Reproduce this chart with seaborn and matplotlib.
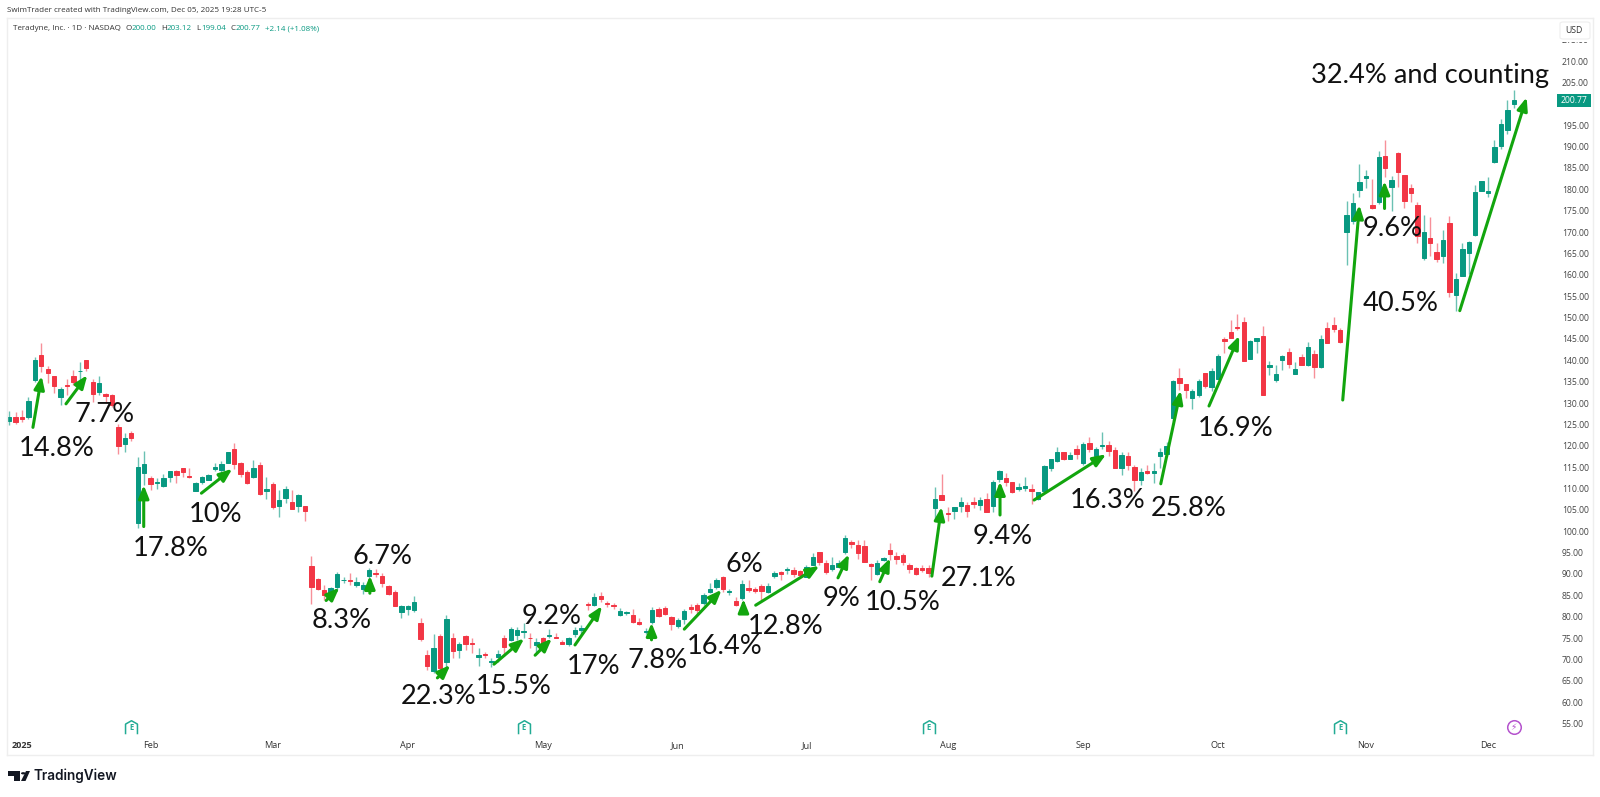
import numpy as np
import pandas as pd
import matplotlib
matplotlib.use("Agg")
import matplotlib.pyplot as plt
from matplotlib.patches import Polygon, Circle, FancyBboxPatch, Rectangle
import seaborn as sns

# Daily bars, Dec 30 2024 to Dec 5 2025
opens = [
    125.9, 126.7, 126.8, 126.8, 135.4, 141.2, 138.0, 136.3, 131.3, 134.2,
    136.2, 137.4, 140.0, 135.0, 132.5, 132.0, 131.9, 124.5, 120.4, 122.9,
    101.9, 113.6, 112.5, 111.3, 110.7, 112.8, 114.0, 114.7, 113.0, 109.5,
    111.6, 112.1, 114.6, 114.3, 116.0, 119.2, 116.0, 113.9, 112.8, 115.5,
    109.3, 111.0, 106.0, 107.7, 106.8, 106.0, 105.9, 91.9, 88.8, 86.2,
    85.5, 87.0, 88.6, 88.6, 87.4, 86.4, 89.6, 90.2, 89.6, 87.1,
    85.7, 81.2, 81.7, 81.5, 78.6, 71.0, 67.3, 75.5, 69.3, 75.1,
    72.2, 75.5, 73.9, 70.7, 71.2, 69.3, 70.5, 75.0, 74.6, 75.7,
    76.4, 75.1, 73.4, 75.0, 75.4, 75.3, 74.2, 73.7, 75.9, 76.9,
    83.0, 82.8, 84.9, 83.2, 82.8, 80.4, 80.8, 80.3, 78.7, 76.4,
    78.8, 81.7, 82.0, 79.9, 77.8, 79.4, 82.2, 82.7, 83.1, 85.9,
    87.0, 89.2, 85.8, 83.8, 84.3, 86.7, 86.4, 87.3, 85.9, 89.5,
    90.5, 90.9, 90.9, 90.6, 89.4, 92.2, 95.1, 92.5, 91.1, 91.7,
    95.1, 97.6, 96.9, 96.5, 92.3, 90.1, 93.3, 95.7, 94.2, 94.5,
    92.2, 91.3, 91.5, 91.5, 105.5, 108.5, 104.3, 104.8, 106.0, 106.1,
    106.8, 106.1, 107.5, 105.9, 112.3, 112.4, 111.5, 109.9, 110.1, 110.0,
    107.5, 109.5, 114.8, 116.5, 118.6, 117.0, 119.3, 116.0, 120.6, 117.6,
    120.0, 120.2, 119.0, 114.7, 117.7, 115.0, 112.1, 114.1, 113.6, 117.6,
    118.0, 126.4, 135.9, 134.5, 131.2, 131.8, 137.0, 133.8, 135.7, 144.9,
    146.5, 147.8, 149.0, 140.4, 144.4, 145.6, 138.4, 135.3, 140.0, 141.9,
    136.8, 140.8, 138.8, 141.4, 138.5, 147.5, 148.2, 147.0, 169.9, 172.6,
    179.9, 182.7, 176.3, 177.0, 187.7, 180.5, 188.4, 183.4, 180.2, 176.3,
    164.0, 168.5, 165.4, 164.5, 172.2, 155.2, 159.8, 165.2, 169.3, 179.6,
    179.1, 186.3, 190.2, 193.8, 200.0,
]
highs = [
    128.2, 128.0, 128.4, 131.3, 140.7, 144.1, 138.7, 136.3, 133.8, 135.6,
    137.7, 139.7, 140.0, 135.5, 136.2, 132.4, 132.1, 125.2, 122.9, 123.5,
    117.3, 118.8, 113.0, 112.5, 113.3, 114.1, 114.3, 114.9, 114.7, 111.6,
    112.9, 113.3, 115.9, 116.5, 118.6, 120.6, 116.3, 114.3, 116.7, 116.3,
    112.8, 111.5, 109.7, 110.6, 109.7, 108.7, 105.9, 94.2, 89.0, 87.4,
    86.9, 90.5, 89.4, 90.3, 89.2, 88.2, 91.3, 91.1, 90.2, 87.4,
    86.3, 82.8, 82.8, 84.9, 79.6, 72.2, 76.0, 76.0, 80.4, 76.1,
    74.2, 75.7, 75.0, 72.6, 71.7, 70.3, 72.2, 75.7, 77.5, 77.7,
    78.5, 76.3, 75.0, 75.3, 77.1, 76.3, 74.6, 75.3, 77.7, 78.1,
    83.5, 85.5, 85.7, 83.8, 83.1, 82.0, 81.3, 81.7, 79.6, 77.3,
    82.2, 82.2, 82.4, 80.2, 79.6, 81.7, 83.0, 83.3, 85.5, 87.8,
    89.0, 89.5, 86.6, 84.7, 88.6, 88.6, 86.9, 87.7, 87.8, 90.8,
    90.8, 91.7, 91.7, 90.9, 92.1, 94.8, 95.2, 93.3, 93.9, 93.3,
    99.1, 98.0, 97.9, 97.9, 92.6, 93.3, 93.9, 97.2, 95.2, 95.0,
    92.6, 91.7, 92.1, 92.1, 110.4, 113.4, 105.7, 105.6, 107.9, 106.9,
    107.9, 108.1, 108.9, 112.0, 114.3, 113.7, 111.6, 111.2, 112.6, 111.0,
    109.2, 115.4, 117.0, 119.8, 118.6, 118.6, 120.2, 120.9, 122.1, 119.8,
    123.3, 121.2, 119.8, 118.6, 118.6, 115.5, 114.7, 115.5, 115.9, 119.5,
    120.8, 135.4, 138.2, 134.5, 133.2, 135.7, 137.1, 138.1, 141.4, 145.5,
    149.4, 150.8, 150.2, 144.7, 145.3, 148.0, 139.9, 138.9, 141.2, 142.9,
    139.6, 141.4, 144.2, 142.4, 145.9, 149.0, 150.1, 147.6, 177.3, 179.1,
    185.9, 184.5, 182.4, 189.0, 191.6, 183.0, 188.8, 183.4, 181.3, 177.1,
    173.9, 173.4, 167.4, 170.5, 173.8, 160.5, 167.5, 167.9, 181.0, 182.0,
    182.8, 191.6, 196.5, 200.9, 203.12,
]
lows = [
    124.8, 125.2, 125.6, 126.2, 135.0, 137.3, 134.6, 132.3, 129.6, 131.9,
    134.2, 135.4, 137.6, 130.3, 131.9, 129.9, 129.1, 118.1, 118.5, 121.0,
    100.8, 110.8, 109.7, 110.0, 110.4, 111.6, 111.4, 112.8, 112.4, 109.3,
    111.1, 112.0, 114.0, 113.8, 115.9, 114.6, 112.8, 111.0, 112.4, 108.5,
    107.5, 105.1, 103.3, 106.7, 105.1, 104.4, 102.4, 83.0, 86.3, 83.9,
    85.0, 86.3, 87.8, 87.4, 87.0, 85.3, 89.0, 89.4, 87.0, 85.1,
    82.4, 79.6, 80.4, 81.2, 74.4, 67.5, 66.9, 65.6, 68.3, 70.3,
    70.3, 72.2, 71.6, 68.5, 70.3, 68.3, 69.5, 70.8, 74.3, 74.6,
    75.0, 72.6, 71.8, 73.4, 75.0, 75.0, 73.6, 73.2, 75.2, 75.7,
    81.6, 82.5, 83.5, 82.2, 81.7, 80.2, 80.4, 78.6, 78.1, 75.9,
    78.4, 79.9, 80.4, 77.0, 77.4, 78.3, 80.8, 80.4, 82.7, 85.6,
    86.6, 85.9, 85.2, 82.5, 83.9, 85.9, 85.5, 83.9, 85.5, 89.0,
    88.6, 90.0, 89.2, 89.5, 89.2, 92.0, 92.1, 90.1, 90.8, 91.3,
    94.6, 96.0, 93.4, 92.9, 88.6, 89.8, 93.1, 93.3, 92.3, 92.1,
    90.3, 89.8, 90.5, 89.2, 102.5, 107.2, 102.5, 102.8, 104.6, 103.4,
    105.4, 105.0, 104.5, 104.6, 111.6, 110.6, 109.0, 109.5, 109.5, 106.4,
    107.3, 109.2, 114.2, 116.3, 116.7, 116.8, 117.0, 115.6, 118.5, 117.4,
    119.2, 117.6, 114.8, 113.2, 114.3, 109.5, 110.8, 113.5, 111.2, 114.8,
    117.5, 125.8, 133.0, 131.1, 128.6, 131.4, 133.6, 132.9, 135.5, 141.6,
    145.1, 147.0, 139.9, 140.2, 141.8, 131.8, 136.5, 135.0, 137.7, 138.1,
    136.8, 138.8, 138.6, 135.9, 138.1, 144.1, 146.7, 144.1, 162.3, 171.9,
    178.1, 180.3, 175.3, 176.6, 182.8, 174.8, 180.6, 175.7, 177.1, 167.5,
    163.5, 164.5, 163.1, 162.7, 154.9, 151.6, 159.7, 160.1, 169.0, 179.5,
    178.3, 186.1, 189.5, 193.0, 199.04,
]
closes = [
    126.7, 125.6, 126.3, 130.5, 140.1, 138.7, 137.0, 134.0, 133.2, 134.0,
    134.8, 137.5, 138.2, 132.1, 134.6, 131.7, 129.5, 120.0, 121.9, 121.8,
    115.0, 115.7, 111.0, 111.6, 112.5, 114.0, 113.1, 113.9, 112.6, 111.3,
    112.7, 113.2, 115.0, 115.7, 118.5, 115.7, 113.5, 111.2, 114.8, 108.6,
    109.8, 105.6, 107.2, 110.0, 105.2, 108.5, 104.8, 86.9, 86.5, 85.1,
    86.7, 90.0, 88.7, 88.3, 88.1, 87.4, 90.9, 89.9, 87.8, 85.4,
    82.4, 82.4, 82.4, 83.5, 74.9, 68.5, 72.8, 67.9, 79.4, 72.1,
    73.6, 73.6, 73.6, 71.0, 71.0, 69.7, 71.2, 73.0, 77.1, 76.9,
    76.7, 75.0, 74.1, 73.6, 75.8, 75.1, 73.7, 75.0, 76.8, 77.3,
    82.8, 84.7, 84.2, 82.9, 82.6, 81.3, 81.2, 78.8, 78.3, 76.7,
    81.6, 80.2, 80.6, 78.3, 79.3, 81.3, 81.8, 81.6, 85.0, 86.6,
    88.6, 86.4, 86.0, 82.8, 87.6, 86.2, 86.0, 86.1, 87.3, 90.2,
    90.0, 91.1, 90.1, 89.7, 91.7, 94.0, 92.8, 90.4, 92.2, 92.5,
    98.5, 97.0, 95.0, 92.9, 91.9, 92.6, 93.7, 94.6, 93.4, 92.8,
    91.1, 90.0, 91.0, 90.2, 107.5, 107.2, 104.0, 105.6, 106.8, 104.7,
    106.3, 107.3, 104.5, 111.6, 114.0, 111.6, 109.2, 110.3, 110.6, 109.4,
    109.1, 115.3, 117.0, 118.5, 116.8, 117.8, 118.1, 120.4, 119.3, 119.2,
    120.2, 118.8, 114.9, 117.8, 115.4, 112.1, 113.9, 113.7, 114.2, 118.6,
    120.0, 135.2, 134.6, 133.0, 132.7, 135.1, 134.0, 137.5, 141.0, 144.5,
    145.3, 147.5, 139.9, 144.5, 145.2, 131.8, 139.0, 136.9, 141.0, 139.1,
    138.0, 138.8, 143.1, 138.5, 144.9, 144.1, 147.3, 144.3, 174.0, 176.9,
    181.7, 183.1, 175.5, 187.5, 184.9, 182.2, 184.0, 177.2, 179.2, 169.0,
    169.9, 167.4, 163.6, 168.2, 155.9, 159.0, 166.0, 167.7, 179.3, 181.9,
    179.6, 190.0, 195.2, 198.5, 200.77,
]

# Axis ticks: bar number of the first session of each month
month_bars = [0, 20, 39, 60, 81, 102, 122, 144, 165, 186, 209, 228]
month_labels = ["2025", "Feb", "Mar", "Apr", "May", "Jun", "Jul", "Aug", "Sep", "Oct", "Nov", "Dec"]
# 200.00 sits behind the last price tag, so it gets no label
price_ticks = [p for p in range(55, 220, 5) if p != 200]

# Hand drawn arrows as (bar, price) start and tip
arrow_x0 = [1.7, 6.84, 18.93, 27.9, 47.3, 54.1, 64.6, 73.4, 79.8, 86.0, 97.9, 103.0,
            112.2, 114.1, 126.9, 133.4, 141.5, 152.1, 157.4, 177.1, 184.6, 205.4, 211.9, 223.6]
arrow_y0 = [124.3, 129.8, 101.1, 108.9, 83.8, 85.5, 65.7, 68.9, 71.0, 73.4, 74.6, 77.1,
            82.3, 82.7, 89.1, 88.2, 89.5, 103.8, 107.3, 111.1, 129.3, 130.7, 175.5, 151.6]
arrow_x1 = [3.06, 10.16, 18.93, 32.7, 49.35, 54.1, 66.6, 78.1, 82.4, 90.2, 97.9, 108.8,
            112.2, 124.0, 128.6, 135.0, 143.0, 152.1, 168.6, 180.2, 189.3, 208.0, 211.9, 234.0]
arrow_y1 = [136.3, 136.5, 110.8, 114.6, 86.8, 89.6, 68.7, 74.9, 74.9, 82.5, 78.6, 86.3,
            84.1, 91.9, 94.6, 93.7, 105.7, 111.6, 118.0, 132.9, 145.7, 176.3, 181.9, 201.5]

# Percentage notes, in picture pixels
note_text = ["14.8%", "7.7%", "17.8%", "10%", "8.3%", "6.7%", "22.3%", "15.5%", "9.2%", "17%",
             "7.8%", "16.4%", "6%", "12.8%", "9%", "10.5%", "27.1%", "9.4%", "16.3%", "25.8%",
             "16.9%", "40.5%", "9.6%", "32.4% and counting"]
note_x = [57, 105, 171, 216, 342, 382, 439, 514, 552, 594, 658, 725,
          744, 786, 842, 903, 979, 1003, 1108, 1189, 1236, 1401, 1393, 1430]
note_y = [448, 415, 548, 515, 621, 557, 697, 687, 617, 666, 660, 647,
          565, 626, 599, 603, 579, 536, 500, 508, 428, 304, 229, 75]

earnings_bars = [17, 78, 141, 205]
dividend_bar = [232]

GREEN = "#089981"
RED = "#F23645"
ARROW = "#12A50E"
W, H = 1600, 797


def fx(x):
    return x / W


def fy(y):
    return 1 - y / H


sns.set_theme(style="white")
plt.rcParams["font.family"] = ["Open Sans", "DejaVu Sans"]

df = pd.DataFrame({"open": opens, "high": highs, "low": lows, "close": closes})
df["bar"] = np.arange(len(df)) - 2
df["base"] = df[["open", "close"]].min(axis=1)
df["body"] = (df["close"] - df["open"]).abs()
df["up"] = df["close"] >= df["open"]

fig = plt.figure(figsize=(16, 7.97), dpi=100, facecolor="white")
ax = fig.add_axes([fx(7), fy(755), (1593 - 7) / W, (755 - 18) / H])

# Wicks first, bodies on top
ax.vlines(df["bar"][df["up"]], df["low"][df["up"]], df["high"][df["up"]], color=GREEN, lw=1.0, alpha=0.6)
ax.vlines(df["bar"][~df["up"]], df["low"][~df["up"]], df["high"][~df["up"]], color=RED, lw=1.0, alpha=0.55)
for flag, colour in [(True, GREEN), (False, RED)]:
    part = df[df["up"] == flag]
    sns.barplot(data=part, x="bar", y="body", bottom=part["base"].values, native_scale=True,
                color=colour, saturation=1, width=0.68, errorbar=None, edgecolor=colour,
                linewidth=0.7, ax=ax)

ax.set_xlim(-2.333, 244.32)
ax.set_ylim(47.66, 220.06)
ax.set_xlabel("")
ax.set_ylabel("")
for side in ax.spines.values():
    side.set_color("#eeeeee")
    side.set_linewidth(1.0)

ax.set_xticks(month_bars)
ax.set_xticklabels(month_labels)
ax.yaxis.tick_right()
ax.set_yticks(price_ticks)
ax.set_yticklabels([f"{p:.2f}" for p in price_ticks])
ax.tick_params(axis="x", length=0, pad=-9.8, labelsize=6.6, labelcolor="#333333")
ax.tick_params(axis="y", length=0, pad=-22.5, labelsize=6.2, labelcolor="#444444")
ax.get_xticklabels()[0].set_fontweight("bold")

# Arrows
for x0, y0, x1, y1 in zip(arrow_x0, arrow_y0, arrow_x1, arrow_y1):
    ax.annotate("", xy=(x1, y1), xytext=(x0, y0), zorder=5,
                arrowprops=dict(arrowstyle="-|>,head_length=0.55,head_width=0.22", color=ARROW,
                                lw=2.2, mutation_scale=14, shrinkA=0, shrinkB=0))

for txt, x, y in zip(note_text, note_x, note_y):
    fig.text(fx(x), fy(y), txt, ha="center", va="center", fontsize=19.6, color="#111111",
             family=["Lato", "DejaVu Sans"], zorder=6)

# Earnings and dividend markers along the bottom
house = [(-0.88, -1), (-0.88, 0.5), (0, 1), (0.88, 0.5), (0.88, -1)]
ax.scatter(earnings_bars, [54.2] * len(earnings_bars), marker=house, s=95, facecolor="white",
           edgecolor="#22AB94", linewidth=1.1, zorder=4)
for b in earnings_bars:
    ax.text(b, 54.1, "E", ha="center", va="center", fontsize=5.5, color="#22AB94", fontweight="bold", zorder=5)
ax.scatter(dividend_bar, [54.2], marker="o", s=95, facecolor="white", edgecolor="#B452CD", linewidth=1.1, zorder=4)
ax.text(dividend_bar[0], 54.2, "\u26a1", ha="center", va="center", fontsize=6.5, color="#B452CD",
        family="DejaVu Sans", zorder=5)

# Price scale furniture
fig.add_artist(Rectangle((fx(1558), fy(41.5)), 33 / W, 20 / H, transform=fig.transFigure, facecolor="white",
                         edgecolor="none"))
fig.add_artist(FancyBboxPatch((fx(1560), fy(39)), 30 / W, 17 / H, boxstyle="round,pad=0,rounding_size=0.002",
                              transform=fig.transFigure, facecolor="white", edgecolor="#eeeeee", linewidth=0.8))
fig.text(fx(1574), fy(30.5), "USD", ha="center", va="center", fontsize=6.2, color="#333333")
fig.add_artist(Rectangle((fx(1557), fy(107)), 34 / W, 13 / H, transform=fig.transFigure, facecolor=GREEN,
                         edgecolor="none"))
fig.text(fx(1574), fy(100.5), "200.77", ha="center", va="center", fontsize=6.2, color="white")

# Header
fig.text(fx(7), fy(10), "SwimTrader created with TradingView.com, Dec 05, 2025 19:28 UTC-5", va="center",
         fontsize=5.8, color="#333333")
legend_bits = [("Teradyne, Inc. \u00b7 1D \u00b7 NASDAQ", 12.7, "#333333"), ("O", 126, "#333333"),
               ("200.00", 131.7, GREEN), ("H", 161, "#333333"), ("203.12", 167, GREEN), ("L", 196.7, "#333333"),
               ("199.04", 201.7, GREEN), ("C", 230.7, "#333333"), ("200.77", 235.3, GREEN),
               ("+2.14 (+1.08%)", 265.3, GREEN)]
for txt, x, colour in legend_bits:
    fig.text(fx(x), fy(29), txt, va="center", fontsize=5.8, color=colour)

# Footer logo
logo = [[(8, 771), (20, 771), (20, 781), (14, 781), (14, 775.5), (8, 775.5)],
        [(26, 771), (30, 771), (25.5, 781), (21, 781)]]
for pts in logo:
    fig.add_artist(Polygon([(fx(a), fy(b)) for a, b in pts], closed=True, transform=fig.transFigure,
                           facecolor="#131722", edgecolor="none"))
fig.add_artist(Circle((fx(23.3), fy(773.3)), 2.3 / W, transform=fig.transFigure, facecolor="#131722", edgecolor="none"))
fig.text(fx(34), fy(776), "TradingView", va="center", fontsize=9.8, color="#131722", fontweight="semibold",
         family=["Inter", "DejaVu Sans"])

fig.savefig("out.png", dpi=100, facecolor="white")
